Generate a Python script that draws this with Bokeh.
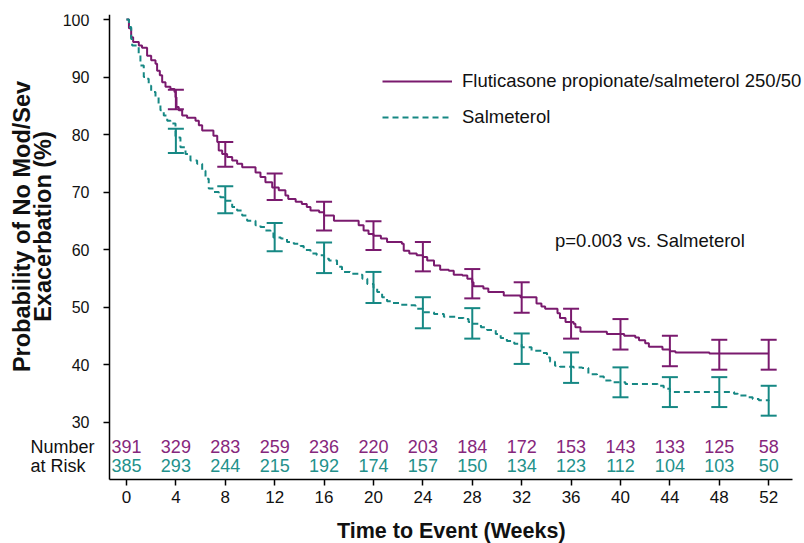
import math
from bokeh.plotting import figure
from bokeh.models import (Range1d, FixedTicker, Whisker, TeeHead, Label, Legend,
                          LegendItem, ColumnDataSource)
from bokeh.core.properties import value
from bokeh.embed import file_html
from bokeh.resources import INLINE

# ---------------- data ----------------
fp_t = [0, 0.2, 0.38, 0.54, 1.0, 1.26, 1.67, 2.0, 2.35, 2.48, 2.7, 2.89, 3.16, 3.56, 3.89,
        3.97, 4.05, 4.23, 4.51, 4.91, 5.59, 5.86, 6.13, 7.04, 7.35, 7.47, 7.75, 8.15, 8.56,
        8.96, 9.37, 10.45, 10.85, 11.25, 11.8, 12.33, 12.87, 13.1, 13.7, 14.2, 14.6, 14.9,
        15.6, 16.0, 16.8, 18.8, 19.2, 19.6, 20.0, 20.6, 21.1, 22.3, 22.45, 22.9, 23.5, 24.0,
        24.35, 24.9, 25.4, 26.1, 26.5, 27.2, 27.6, 28.0, 28.1, 28.9, 29.3, 30.55, 31.9, 33.2,
        33.6, 33.9, 34.9, 35.1, 35.55, 36.2, 36.35, 36.76, 38.9, 40.3, 41.2, 41.5, 42.0, 42.3,
        43.4, 44.0, 44.45, 47.2, 52.0]
fp_s = [100, 98.5, 96.9, 96.1, 95.5, 95.1, 93.7, 92.9, 92.3, 91.1, 90.3, 89.1, 88.3, 87.9, 87.4,
        86.5, 84.8, 84.2, 83.3, 82.9, 82.4, 81.6, 80.7, 79.8, 78.7, 77.2, 76.6, 76.1, 75.5,
        74.9, 74.3, 73.4, 72.6, 71.7, 70.8, 70.3, 69.4, 68.8, 68.3, 67.9, 67.4, 66.8,
        66.5, 65.9, 65.0, 64.2, 63.3, 62.7, 62.4, 61.9, 61.3, 61.0, 59.8, 59.3, 59.0, 58.7,
        58.1, 57.2, 56.5, 56.3, 55.6, 55.5, 54.9, 54.3, 53.6, 53.2, 52.6, 52.0, 51.7, 50.6,
        50.1, 49.7, 48.9, 48.1, 47.4, 47.1, 46.5, 45.7, 45.3, 45.0, 44.7, 44.2, 43.7, 43.1,
        42.6, 42.3, 42.1, 41.9, 41.9]

salm_t = [0, 0.2, 0.38, 0.46, 0.86, 0.99, 1.13, 1.4, 1.67, 1.8, 2.0, 2.35, 2.6, 2.75, 3.02, 3.3,
          3.56, 3.97, 4.37, 4.78, 5.18, 5.72, 6.13, 6.4, 6.66, 7.07, 7.47, 7.6, 7.88, 8.0, 8.56,
          8.96, 9.37, 9.77, 10.45, 10.85, 11.25, 11.66, 11.9, 12.5, 13.0, 13.55, 14.1, 14.35,
          14.9, 15.4, 16.0, 16.4, 17.05, 17.45, 18.1, 18.8, 19.1, 19.5, 20.0, 20.3, 20.7, 21.1,
          21.5, 22.2, 23.0, 23.4, 24.0, 24.9, 25.7, 26.8, 27.3, 27.7, 28.0, 28.7, 29.2, 29.9,
          30.3, 30.8, 31.4, 32.0, 32.8, 33.6, 34.05, 34.3, 34.7, 35.1, 36.2, 36.9, 37.4, 38.1,
          38.65, 39.2, 40.4, 43.0, 43.5, 44.0, 49.2, 49.5, 50.2, 50.7, 51.2, 52.0]
salm_s = [100, 98.7, 96.6, 95.5, 95.2, 94.0, 92.0, 90.0, 89.7, 88.5, 87.4, 86.5, 85.3, 84.2, 83.3,
          82.4, 81.9, 79.5, 77.8, 76.6, 75.5, 74.9, 73.7, 72.3, 70.6, 70.0, 69.7, 69.1, 68.8,
          68.5, 67.4, 66.8, 65.9, 65.0, 64.2, 63.9, 63.3, 63.0, 62.1, 61.9, 61.3, 61.0, 60.6,
          59.9, 59.3, 59.0, 58.4, 58.1, 57.0, 56.1, 55.8, 55.6, 54.9, 54.0, 53.4, 52.6, 51.7,
          51.0, 50.7, 50.4, 50.3, 49.7, 49.1, 48.8, 48.3, 48.1, 47.9, 47.4, 47.1, 46.5, 46.0,
          45.3, 44.6, 44.1, 43.6, 43.0, 42.4, 42.0, 41.2, 40.5, 39.8, 39.6, 39.5, 39.4, 38.3,
          37.9, 37.2, 36.9, 36.6, 36.3, 35.8, 35.2, 34.9, 34.6, 34.3, 34.0, 33.8, 33.7]

ci_weeks = [4, 8, 12, 16, 20, 24, 28, 32, 36, 40, 44, 48, 52]
fp_lower = [84.4, 74.4, 68.6, 63.3, 59.9, 56.2, 51.5, 49.0, 44.5, 42.6, 39.7, 39.1, 39.1]
fp_upper = [87.8, 78.7, 73.2, 68.3, 64.9, 61.3, 56.6, 54.3, 49.7, 47.9, 45.0, 44.3, 44.3]
salm_lower = [76.8, 66.3, 59.7, 55.9, 50.7, 46.3, 44.5, 40.1, 36.8, 34.3, 32.6, 32.6, 31.1]
salm_upper = [81.0, 71.0, 64.6, 61.2, 56.1, 51.7, 49.8, 45.4, 42.1, 39.5, 37.8, 37.8, 36.3]

risk_weeks = [0, 4, 8, 12, 16, 20, 24, 28, 32, 36, 40, 44, 48, 52]
risk_fp = [391, 329, 283, 259, 236, 220, 203, 184, 172, 153, 143, 133, 125, 58]
risk_salm = [385, 293, 244, 215, 192, 174, 157, 150, 134, 123, 112, 104, 103, 50]

y_ticks = [30, 40, 50, 60, 70, 80, 90, 100]
x_ticks = [0, 4, 8, 12, 16, 20, 24, 28, 32, 36, 40, 44, 48, 52]

fp_name = "Fluticasone propionate/salmeterol 250/50"
salm_name = "Salmeterol"
p_text = "p=0.003 vs. Salmeterol"
x_title = "Time to Event (Weeks)"
y_title_1 = "Probability of No Mod/Sev"
y_title_2 = "Exacerbation (%)"
risk_title_1 = "Number"
risk_title_2 = "at Risk"

# ---------------- style ----------------
PURPLE = "#7A1A6E"
TEAL = "#168884"
PURPLE_TXT = "#86277C"
TEAL_TXT = "#23918B"
FONT = "Liberation Sans"
X0, X1 = -1.38, 53.93      # extent of the drawn x axis (data units)
Y0, Y1 = 20.0, 100.87      # extent of the drawn y axis (data units)

p = figure(width=804, height=543, output_backend="svg", toolbar_location=None,
           x_range=Range1d(-10.20, 54.90), y_range=Range1d(8.87, Y1),
           min_border_left=0, min_border_right=0, min_border_top=14, min_border_bottom=0)
p.outline_line_color = None
p.xgrid.visible = False
p.ygrid.visible = False
p.background_fill_color = "white"
p.border_fill_color = "white"

for ax, ticks in ((p.xaxis[0], x_ticks), (p.yaxis[0], y_ticks)):
    ax.ticker = FixedTicker(ticks=ticks)
    ax.minor_tick_line_color = None
    ax.major_tick_in = 0
    ax.major_tick_out = 6
    ax.axis_line_color = "black"
    ax.axis_line_width = 1.5
    ax.major_tick_line_color = "black"
    ax.major_tick_line_width = 1.5
    ax.major_label_text_font = FONT
    ax.major_label_text_color = "#111111"

xa = p.xaxis[0]
xa.fixed_location = Y0
xa.bounds = (X0, X1)
xa.major_label_standoff = 5
xa.major_label_text_font_size = "17px"

ya = p.yaxis[0]
ya.fixed_location = X0
ya.bounds = (Y0, Y1)
ya.major_label_standoff = 14
ya.major_label_text_font_size = "16px"

r_fp = p.step(fp_t, fp_s, mode="after", line_color=PURPLE, line_width=2)
r_salm = p.step(salm_t, salm_s, mode="after", line_color=TEAL, line_width=2,
                line_dash="6 4")

ci_src = ColumnDataSource(dict(w=ci_weeks, fl=fp_lower, fu=fp_upper,
                               sl=salm_lower, su=salm_upper))
for lo, up, col in (("sl", "su", TEAL), ("fl", "fu", PURPLE)):
    wk = Whisker(source=ci_src, base="w", lower=lo, upper=up, dimension="height",
                 line_color=col, line_width=2,
                 upper_head=TeeHead(size=16, line_color=col, line_width=2),
                 lower_head=TeeHead(size=16, line_color=col, line_width=2))
    p.add_layout(wk)

risk_src = ColumnDataSource(dict(w=risk_weeks,
                                 fp=[str(v) for v in risk_fp],
                                 sa=[str(v) for v in risk_salm]))
p.text(x="w", y=25.7, text="fp", source=risk_src, text_align="center",
       text_baseline="middle", text_font=value(FONT), text_font_size="18px",
       text_color=PURPLE_TXT)
p.text(x="w", y=22.4, text="sa", source=risk_src, text_align="center",
       text_baseline="middle", text_font=value(FONT), text_font_size="18px",
       text_color=TEAL_TXT)

def lab(x, y, t, size="18px", bold=False, align="left", angle=0.0, color="#111111"):
    p.add_layout(Label(x=x, y=y, text=t, text_font=FONT, text_font_size=size,
                       text_font_style="bold" if bold else "normal", text_align=align,
                       text_baseline="middle", angle=angle, text_color=color))

lab(-7.77, 25.7, risk_title_1)
lab(-7.77, 22.4, risk_title_2)
lab(34.7, 61.6, p_text, size="18.5px")
lab(26.3, 11.13, x_title, size="21.5px", bold=True, align="center")
lab(-8.42, 64.0, y_title_1, size="23.5px", bold=True, align="center", angle=math.pi / 2)
lab(-6.72, 64.0, y_title_2, size="23.5px", bold=True, align="center", angle=math.pi / 2)

legend = Legend(items=[LegendItem(label=fp_name, renderers=[r_fp]),
                       LegendItem(label=salm_name, renderers=[r_salm])],
                location=(382, 415), glyph_width=70, glyph_height=20, label_height=20,
                spacing=14, padding=0, margin=0, label_standoff=10,
                label_text_font=FONT, label_text_font_size="18.5px",
                label_text_color="#111111", border_line_alpha=0,
                background_fill_alpha=0)
p.add_layout(legend)

open("out.html", "w").write(file_html(p, INLINE))
